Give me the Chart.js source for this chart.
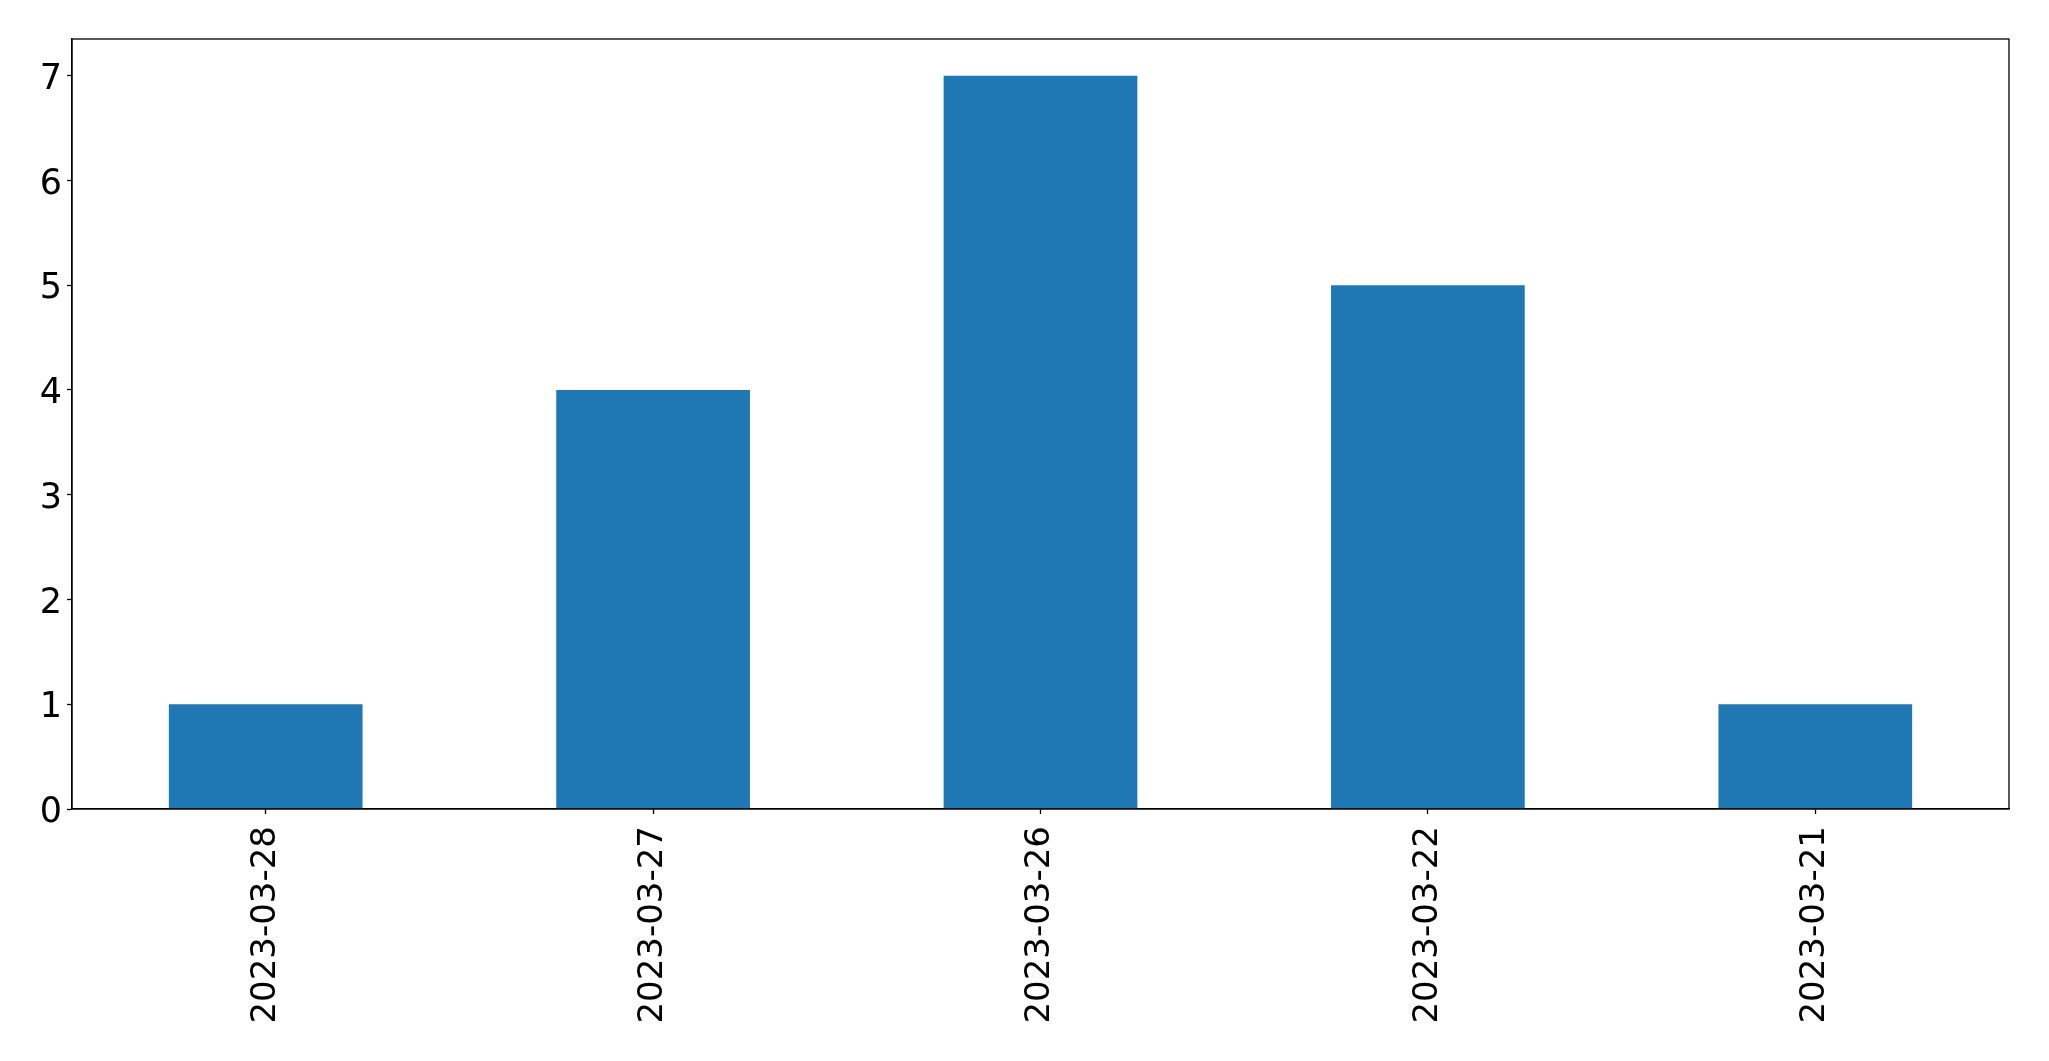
<!DOCTYPE html>
<html>
<head>
<meta charset="utf-8">
<script src="https://cdn.jsdelivr.net/npm/chart.js@4.4.0/dist/chart.umd.min.js"></script>
<style>
    html, body { margin: 0; padding: 0; background: #ffffff; }
    #wrap { width: 2049px; height: 1061px; }
</style>
</head>
<body>
<div id="wrap"><canvas id="myChart" width="2049" height="1061"></canvas></div>
<script>
// data
var dates = ["2023-03-28", "2023-03-27", "2023-03-26", "2023-03-22", "2023-03-21"];
var counts = [1, 4, 7, 5, 1];
var yTicks = [0, 1, 2, 3, 4, 5, 6, 7];

var barColor = "#1f77b4";
var fontFamily = "'DejaVu Sans', sans-serif";

// box round the plot area (top and right sides too)
var frameBox = {
    id: 'frameBox',
    afterDraw: function (chart) {
        var a = chart.chartArea;
        var ctx = chart.ctx;
        ctx.save();
        ctx.strokeStyle = '#000000';
        ctx.lineWidth = 1.3;
        ctx.strokeRect(a.left, a.top, a.right - a.left, a.bottom - a.top);
        ctx.restore();
    }
};

new Chart("myChart", {
    type: "bar",
    data: {
        labels: dates,
        datasets: [{
            data: counts,
            backgroundColor: barColor,
            borderWidth: 0,
            barPercentage: 0.5,
            categoryPercentage: 1.0
        }]
    },
    options: {
        responsive: false,
        animation: false,
        layout: {
            padding: { top: 39, right: 40, left: 0, bottom: 0 }
        },
        plugins: {
            legend: { display: false },
            tooltip: { enabled: false }
        },
        scales: {
            x: {
                offset: true,
                grid: {
                    offset: false,
                    drawOnChartArea: false,
                    tickLength: 5,
                    tickColor: '#000000',
                    tickWidth: 1.3
                },
                border: { display: true, color: '#000000', width: 1.3 },
                ticks: {
                    color: '#000000',
                    font: { family: fontFamily, size: 34 },
                    minRotation: 90,
                    maxRotation: 90,
                    padding: 12,
                    autoSkip: false
                },
                afterFit: function (scale) { scale.height = 252; }
            },
            y: {
                min: 0,
                max: 7.35,
                grid: {
                    drawOnChartArea: false,
                    tickLength: 5,
                    tickColor: '#000000',
                    tickWidth: 1.3
                },
                border: { display: true, color: '#000000', width: 1.3 },
                ticks: {
                    stepSize: 1,
                    color: '#000000',
                    font: { family: fontFamily, size: 35 },
                    padding: 5,
                    labelOffset: 4
                },
                afterBuildTicks: function (scale) {
                    scale.ticks = yTicks.map(function (v) { return { value: v }; });
                },
                afterFit: function (scale) { scale.width = 72; }
            }
        }
    },
    plugins: [frameBox]
});
</script>
</body>
</html>
